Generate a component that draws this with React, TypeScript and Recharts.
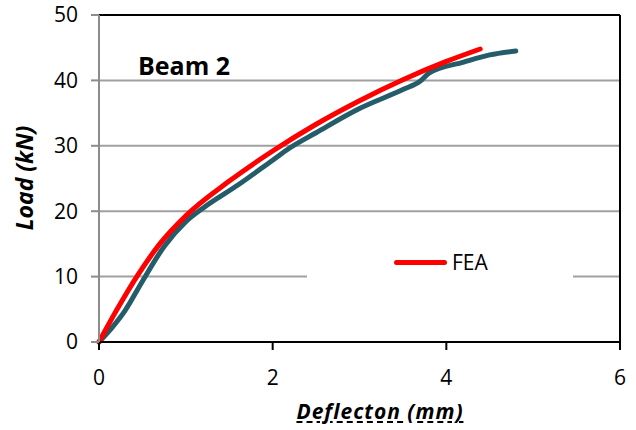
import { LineChart, Line, XAxis, YAxis, CartesianGrid, ReferenceLine, Legend } from 'recharts';

// FEA curve (red)
const feaDeflection = [0, 0.2, 0.45, 0.7, 1.0, 1.5, 2.0, 2.5, 3.0, 3.5, 4.0, 4.39];
const feaLoad = [0, 4.8, 10.3, 15, 19.3, 24.6, 29.2, 33.3, 36.9, 40.1, 42.9, 44.8];

// test curve (dark teal, not in legend)
const testDeflection = [0, 0.15, 0.3, 0.5, 0.75, 1.0, 1.2, 1.6, 2.0, 2.2, 2.5, 3.0, 3.5, 3.7, 3.8, 4.2, 4.5, 4.8];
const testLoad = [0, 2.2, 4.8, 9.3, 14.6, 18.4, 20.5, 24.0, 27.8, 29.7, 32.0, 35.7, 38.6, 39.9, 41.1, 42.8, 43.9, 44.5];

const xTicks = [0, 2, 4, 6];
const yTicks = [0, 10, 20, 30, 40, 50];

const feaData = feaDeflection.map((x, i) => ({ x, y: feaLoad[i] }));
const testData = testDeflection.map((x, i) => ({ x, y: testLoad[i] }));

const font = "'Open Sans', sans-serif";

function FeaLegend() {
  return (
    <div
      style={{
        background: '#fff',
        width: 266,
        height: 50,
        display: 'flex',
        alignItems: 'center',
        fontFamily: font,
        fontSize: 21,
        color: '#000',
      }}
    >
      <div style={{ width: 53, height: 5, borderRadius: 3, background: '#ff0000', marginLeft: 87 }} />
      <span style={{ marginLeft: 5 }}>FEA</span>
    </div>
  );
}

export default function App() {
  return (
    <div style={{ position: 'absolute', left: 0, top: 0, width: 636, height: 430, background: '#fff' }}>
      <LineChart width={636} height={430} margin={{ top: 15, right: 16, left: 39, bottom: 58 }}>
        <CartesianGrid vertical={false} stroke="#a0a0a0" strokeWidth={2} />
        <XAxis
          type="number"
          dataKey="x"
          domain={[0, 6]}
          ticks={xTicks}
          height={30}
          stroke="#000"
          strokeWidth={2}
          tickSize={8}
          tickMargin={20}
          tick={{ fill: '#000', fontSize: 21, fontFamily: font }}
        />
        <YAxis
          type="number"
          dataKey="y"
          domain={[0, 50]}
          ticks={yTicks}
          width={60}
          stroke="#8c8c8c"
          strokeWidth={2}
          tickSize={8}
          tickMargin={13}
          tick={{ fill: '#000', fontSize: 21, fontFamily: font }}
        />
        <ReferenceLine y={50} stroke="#000" strokeWidth={2} />
        <ReferenceLine x={6} stroke="#000" strokeWidth={2} />
        <Legend
          verticalAlign="middle"
          content={<FeaLegend />}
          wrapperStyle={{ position: 'absolute', left: 307, top: 237, width: 266, height: 50 }}
        />
        <Line
          data={testData}
          dataKey="y"
          type="monotone"
          stroke="#245c6a"
          strokeWidth={5}
          strokeLinecap="round"
          dot={false}
          legendType="none"
          isAnimationActive={false}
        />
        <Line
          data={feaData}
          dataKey="y"
          name="FEA"
          type="monotone"
          stroke="#ff0000"
          strokeWidth={5}
          strokeLinecap="round"
          dot={false}
          isAnimationActive={false}
        />
      </LineChart>
      <div
        style={{
          position: 'absolute',
          left: 138,
          top: 48,
          fontFamily: font,
          fontWeight: 700,
          fontSize: 25,
          color: '#000',
        }}
      >
        Beam 2
      </div>
      <div
        style={{
          position: 'absolute',
          left: 24,
          top: 178,
          transform: 'translate(-50%, -50%) rotate(-90deg)',
          fontFamily: font,
          fontWeight: 700,
          fontStyle: 'italic',
          fontSize: 23,
          whiteSpace: 'nowrap',
          color: '#000',
        }}
      >
        Load (kN)
      </div>
      <div
        style={{
          position: 'absolute',
          left: 380,
          top: 411,
          transform: 'translate(-50%, -50%)',
          fontFamily: font,
          fontWeight: 700,
          fontStyle: 'italic',
          fontSize: 21,
          letterSpacing: 1,
          whiteSpace: 'nowrap',
          color: '#000',
          textDecoration: 'underline dashed',
        }}
      >
        Deflecton (mm)
      </div>
    </div>
  );
}
